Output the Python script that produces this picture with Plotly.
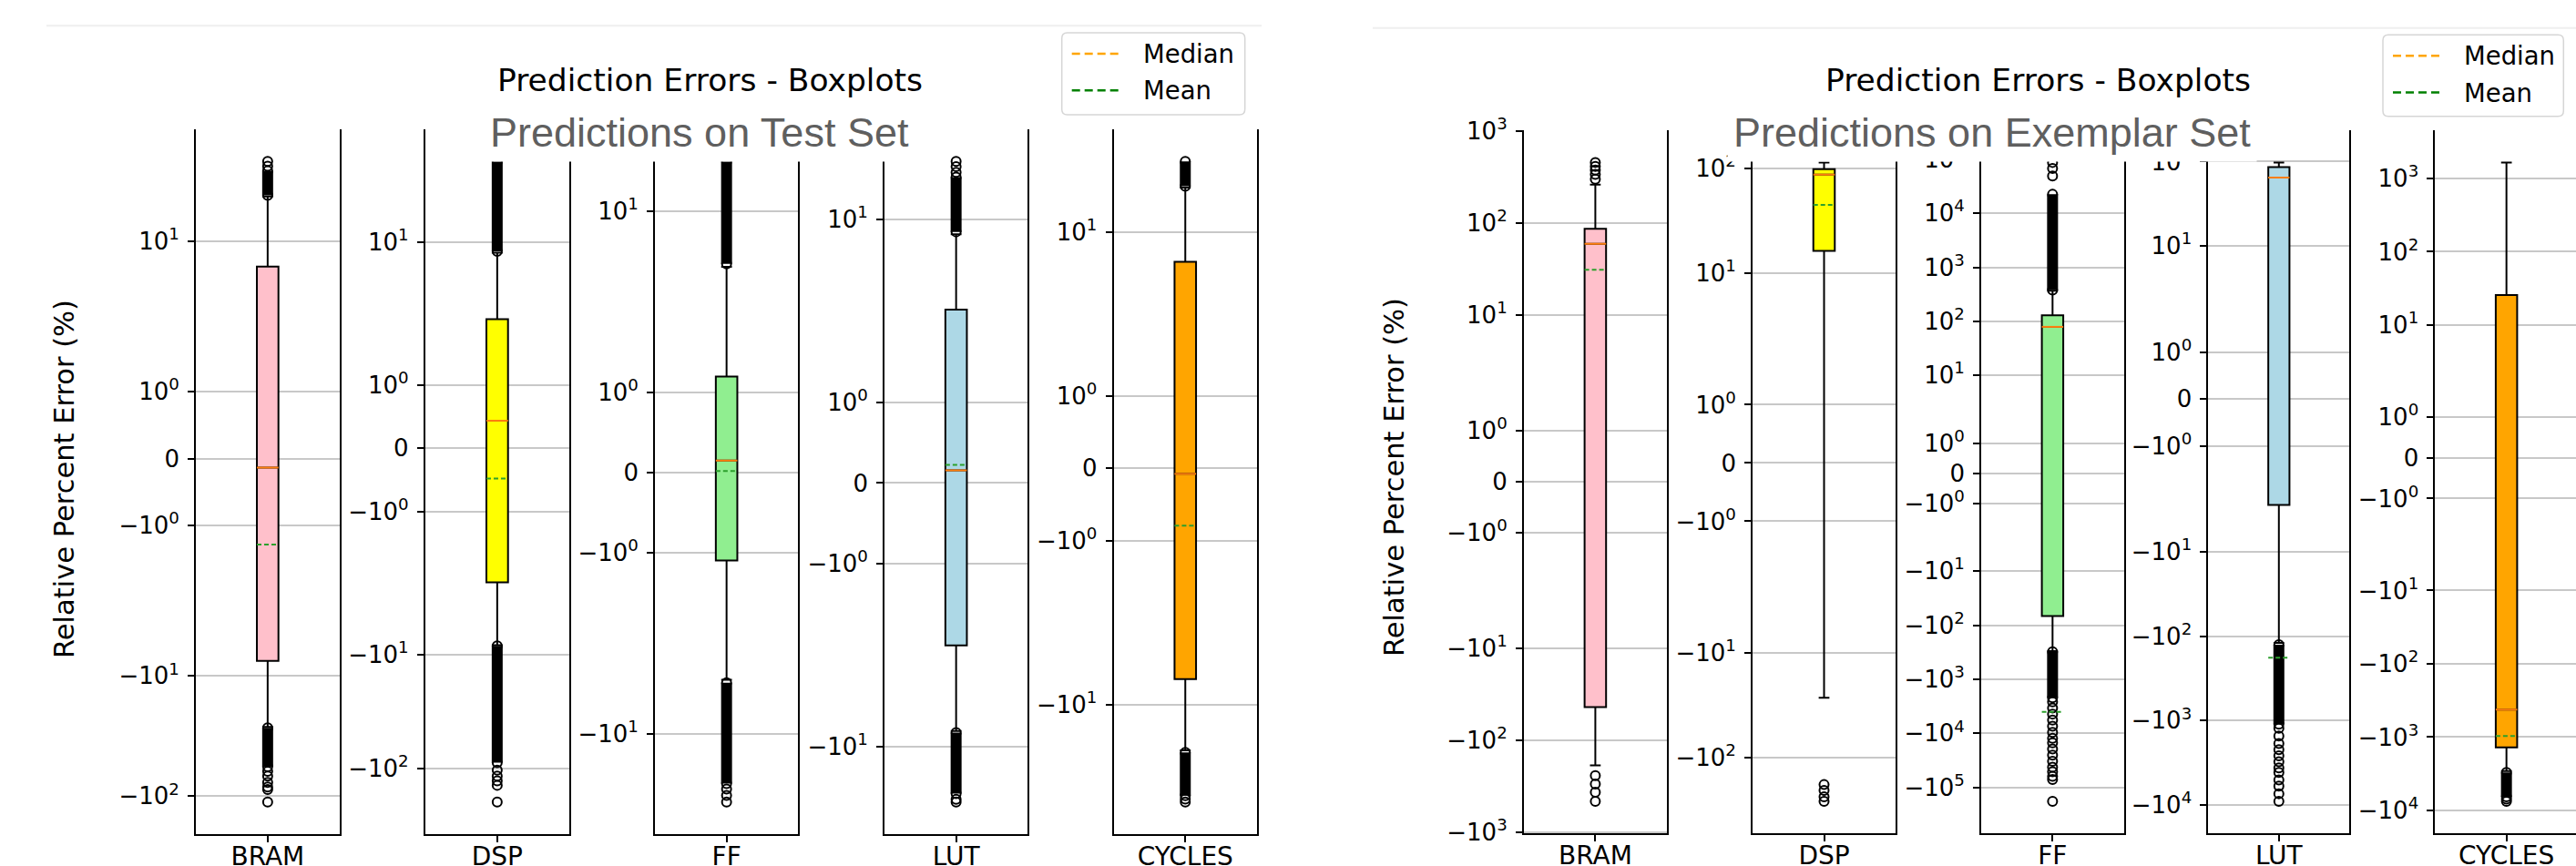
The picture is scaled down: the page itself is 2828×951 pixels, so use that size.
import math
import plotly.graph_objects as go

# ---------------- data (relative percent error, %) ----------------
METRICS = ["BRAM", "DSP", "FF", "LUT", "CYCLES"]
BOX_COLORS = ["pink", "yellow", "lightgreen", "lightblue", "orange"]

# Predictions on Test Set
test_q1 = [-7.48, -2.33, -1.095, -2.02, -6.39]
test_median = [-0.136, 0.437, 0.15, 0.157, -0.075]
test_q3 = [6.12, 2.11, 1.196, 2.40, 5.94]
test_mean = [-1.29, -0.479, 0.019, 0.224, -0.79]
test_whisker_low = [-26.5, -8.3, -4.2, -7.8, -22.5]
test_whisker_high = [23.5, 8.1, 4.1, 7.9, 22.0]
# runs of thousands of overlapping fliers: (from, to)
test_dense_high = [(24, 38.5), (8.3, 51.3), (4.3, 22.0), (8.2, 19.5), (22.6, 35.0)]
test_dense_low = [(-27, -57), (-8.4, -89), (-4.4, -22), (-8.0, -21), (-23.3, -50)]
test_fliers = [
    [42, 46, -62, -68, -77, -84, -88, -112],
    [-104, -117, -129, -141, -198],
    [-24, -26.5, -29.5],
    [21, 23, 25, -23, -24],
    [-53, -56],
]

# Predictions on Exemplar Set
ex_q1 = [-43.9, 16.35, -67.2, -2.79, -1380]
ex_median = [59.1, 87.1, 79.2, 64.6, -422]
ex_q3 = [86.1, 98.3, 129.6, 86.2, 25.7]
ex_mean = [30.9, 44.9, -4009, -179.9, -966]
ex_whisker_low = [-188, -26.9, -300, -120, -2900]
ex_whisker_high = [260, 114, 370, 97.8, 1654]
ex_dense_high = [None, None, (380, 22400), None, None]
ex_dense_low = [None, None, (-309, -2200), (-126, -1100), (-3038, -6500)]
ex_fliers = [
    [298, 335, 374, 410, 452, -243, -300, -368, -462],
    [-181, -206, -236, -261],
    [49000, 67000, 87000, -2614, -3391, -4386, -5689, -7379, -9529, -12370,
     -15010, -19470, -25180, -32660, -42360, -51400, -62440, -70930, -180000],
    [-1234, -1519, -1870, -2206, -2605, -3075, -3626, -4107, -5058, -5963,
     -7343, -9023],
    [-7000, -7500],
]

TITLE = "Prediction Errors - Boxplots"
SUBTITLES = ["Predictions on Test Set", "Predictions on Exemplar Set"]
YLABEL = "Relative Percent Error (%)"
LEGEND_NAMES = ["Median", "Mean"]
LEGEND_COLORS = ["orange", "green"]

# ---------------- symlog scale (matplotlib default: linthresh=2, linscale=1) ----
LINTHRESH = 2.0
LINSCALE_ADJ = 1.0 / (1.0 - 1.0 / 10.0)


def symlog(v):
    a = abs(v)
    if a <= LINTHRESH:
        return v * LINSCALE_ADJ
    return math.copysign(LINTHRESH * (LINSCALE_ADJ + math.log10(a / LINTHRESH)), v)


def sup_label(v):
    if v == 0:
        return "0"
    k = int(round(math.log10(abs(v))))
    s = "10<sup>%d</sup>" % k
    return s if v > 0 else "\u2212" + s


# ---------------- layout constants ----------------
W, H = 2828, 951
FONT = "DejaVu Sans"
panels = [
    dict(q1=test_q1, med=test_median, q3=test_q3, mean=test_mean,
         wl=test_whisker_low, wh=test_whisker_high,
         dh=test_dense_high, dl=test_dense_low, fl=test_fliers,
         xs=[(215, 372.7), (466.7, 625), (719, 876.3), (971, 1128.3), (1222.5, 1380)],
         top=142, bottom=916,
         title_c=(780, 88), sub_c=768, ylab_c=(70, 526),
         legend_box=(1165.7, 36, 1366.7, 126), topline=(51, 1385, 28.3)),
    dict(q1=ex_q1, med=ex_median, q3=ex_q3, mean=ex_mean,
         wl=ex_whisker_low, wh=ex_whisker_high,
         dh=ex_dense_high, dl=ex_dense_low, fl=ex_fliers,
         xs=[(1672.8, 1830), (1924, 2081), (2175, 2331.7), (2424.3, 2579.3), (2673.3, 2830)],
         top=143.3, bottom=915,
         title_c=(2237.7, 88), sub_c=2187, ylab_c=(1530, 524),
         legend_box=(2616, 38.3, 2814.3, 127.7), topline=(1507, 2828, 30.7)),
]
BOX_W = 0.15

fig = go.Figure()
layout = dict(width=W, height=H,
              margin=dict(l=0, r=0, t=0, b=0, pad=0, autoexpand=False),
              paper_bgcolor="white", plot_bgcolor="white", showlegend=False)

flier_marker = dict(symbol="circle-open", size=10, color="black",
                    line=dict(width=2, color="black"))


def px_x(v):
    return v / W


def px_y(v):
    return 1 - v / H


annotations = []
shapes = []

idx = 0
for p_i, p in enumerate(panels):
    for m_i, name in enumerate(METRICS):
        idx += 1
        xa = "x" if idx == 1 else "x%d" % idx
        ya = "y" if idx == 1 else "y%d" % idx
        x0, x1 = p["xs"][m_i]
        nominal_w = x1 - x0
        x1c = min(x1, W)
        xr_hi = 0.5 + (x1c - x0) / nominal_w

        q1, med, q3, mean = p["q1"][m_i], p["med"][m_i], p["q3"][m_i], p["mean"][m_i]
        wl, wh = p["wl"][m_i], p["wh"][m_i]
        vals = [q1, med, q3, mean, wl, wh] + list(p["fl"][m_i])
        for band in (p["dh"][m_i], p["dl"][m_i]):
            if band:
                vals += list(band)
        tv = [symlog(v) for v in vals]
        lo, hi = min(tv), max(tv)
        span = hi - lo
        lo, hi = lo - 0.05 * span, hi + 0.05 * span

        # box with whiskers and caps
        fig.add_trace(go.Box(
            x=[1], q1=[symlog(q1)], median=[symlog(med)], q3=[symlog(q3)],
            lowerfence=[symlog(wl)], upperfence=[symlog(wh)],
            width=BOX_W, whiskerwidth=0.5, fillcolor=BOX_COLORS[m_i],
            line=dict(color="black", width=2), boxpoints=False,
            xaxis=xa, yaxis=ya, showlegend=False, hoverinfo="skip"))
        # median
        fig.add_trace(go.Scatter(
            x=[1 - BOX_W / 2, 1 + BOX_W / 2], y=[symlog(med)] * 2, mode="lines",
            line=dict(color="#ff7f0e", width=2), xaxis=xa, yaxis=ya,
            showlegend=False, hoverinfo="skip"))
        # dense flier runs
        for band in (p["dh"][m_i], p["dl"][m_i]):
            if band:
                fig.add_trace(go.Scatter(
                    x=[1, 1], y=[symlog(band[0]), symlog(band[1])], mode="lines+markers",
                    line=dict(color="black", width=12), marker=flier_marker,
                    xaxis=xa, yaxis=ya, showlegend=False, hoverinfo="skip"))
        # individual fliers
        fl = p["fl"][m_i]
        if fl:
            fig.add_trace(go.Scatter(
                x=[1] * len(fl), y=[symlog(v) for v in fl], mode="markers",
                marker=flier_marker, xaxis=xa, yaxis=ya, showlegend=False,
                hoverinfo="skip"))
        # mean
        fig.add_trace(go.Scatter(
            x=[1 - BOX_W / 2, 1 + BOX_W / 2], y=[symlog(mean)] * 2, mode="lines",
            line=dict(color="#2ca02c", width=2, dash="5px,3px"), xaxis=xa, yaxis=ya,
            showlegend=False, hoverinfo="skip"))

        # ticks at 0 and +-10^k
        cands = [-(10 ** k) for k in range(7, -1, -1)] + [0] + [10 ** k for k in range(0, 8)]
        tickvals, ticktext = [], []
        for c in cands:
            t = symlog(c)
            if lo <= t <= hi:
                tickvals.append(t)
                ticktext.append(sup_label(c))

        xkey = "xaxis" if idx == 1 else "xaxis%d" % idx
        ykey = "yaxis" if idx == 1 else "yaxis%d" % idx
        layout[xkey] = dict(
            domain=[x0 / W, min(x1c / W, 1.0)], anchor=ya, range=[0.5, xr_hi],
            tickvals=[1], ticktext=[name], ticks="outside", ticklen=7, tickwidth=1.7,
            tickcolor="black", showline=True, linecolor="black", linewidth=1.7,
            showgrid=False, zeroline=False, automargin=False, ticklabelstandoff=-8,
            tickfont=dict(family=FONT, size=28, color="black"))
        layout[ykey] = dict(
            domain=[1 - p["bottom"] / H, 1 - p["top"] / H], anchor=xa, range=[lo, hi],
            tickvals=tickvals, ticktext=ticktext, ticks="outside", ticklen=7,
            tickwidth=1.7, tickcolor="black", showline=True, automargin=False,
            mirror=(x1 <= W), linecolor="black", linewidth=1.7,
            showgrid=True, gridcolor="#c8c8c8", gridwidth=1.8, zeroline=False,
            tickfont=dict(family=FONT, size=26, color="black"), ticklabelstandoff=4)

    # titles
    annotations.append(dict(text=TITLE, x=px_x(p["title_c"][0]), y=px_y(p["title_c"][1]),
                            xref="paper", yref="paper", xanchor="center", yanchor="middle",
                            showarrow=False, font=dict(family=FONT, size=34.5, color="black")))
    annotations.append(dict(text=SUBTITLES[p_i], x=px_x(p["sub_c"]), y=px_y(178),
                            xref="paper", yref="paper", xanchor="center", yanchor="bottom",
                            showarrow=False, bgcolor="white", borderpad=6,
                            font=dict(family="Liberation Sans", size=45, color="#5f5f5f")))
    annotations.append(dict(text=YLABEL, x=px_x(p["ylab_c"][0]), y=px_y(p["ylab_c"][1]),
                            xref="paper", yref="paper", xanchor="center", yanchor="middle",
                            textangle=-90, showarrow=False,
                            font=dict(family=FONT, size=30.5, color="black")))

    # legend (frame, dashed keys, labels)
    bx0, by0, bx1, by1 = p["legend_box"]
    r = 6
    path = ("M {a},{b} L {c},{b} Q {d},{b} {d},{e} L {d},{f} Q {d},{g} {c},{g} "
            "L {a},{g} Q {h},{g} {h},{f} L {h},{e} Q {h},{b} {a},{b} Z").format(
        a=px_x(bx0 + r), b=px_y(by0), c=px_x(bx1 - r), d=px_x(bx1), e=px_y(by0 + r),
        f=px_y(by1 - r), g=px_y(by1), h=px_x(bx0))
    shapes.append(dict(type="path", xref="paper", yref="paper", path=path,
                       fillcolor="white", line=dict(color="#d6d6d6", width=1.5)))
    for k, (lname, lcol) in enumerate(zip(LEGEND_NAMES, LEGEND_COLORS)):
        ly = by0 + 23 + 40.3 * k
        shapes.append(dict(type="line", xref="paper", yref="paper",
                           x0=px_x(bx0 + 11), x1=px_x(bx0 + 62.3), y0=px_y(ly), y1=px_y(ly),
                           line=dict(color=lcol, width=2.5, dash="9px,5px")))
        annotations.append(dict(text=lname, x=px_x(bx0 + 87), y=px_y(ly), xref="paper",
                                yref="paper", xanchor="left", yanchor="middle",
                                showarrow=False,
                                font=dict(family=FONT, size=27.5, color="black")))

    # faint frame line along the top
    tx0, tx1, ty = p["topline"]
    shapes.append(dict(type="line", xref="paper", yref="paper", x0=px_x(tx0), x1=px_x(tx1),
                       y0=px_y(ty), y1=px_y(ty), line=dict(color="#efefef", width=2)))

layout["annotations"] = annotations
layout["shapes"] = shapes

fig.update_layout(**layout)
fig.write_html("out.html", config={"displayModeBar": False},
               post_script="document.body.style.margin='0';"
                           "document.body.style.overflow='hidden';")
